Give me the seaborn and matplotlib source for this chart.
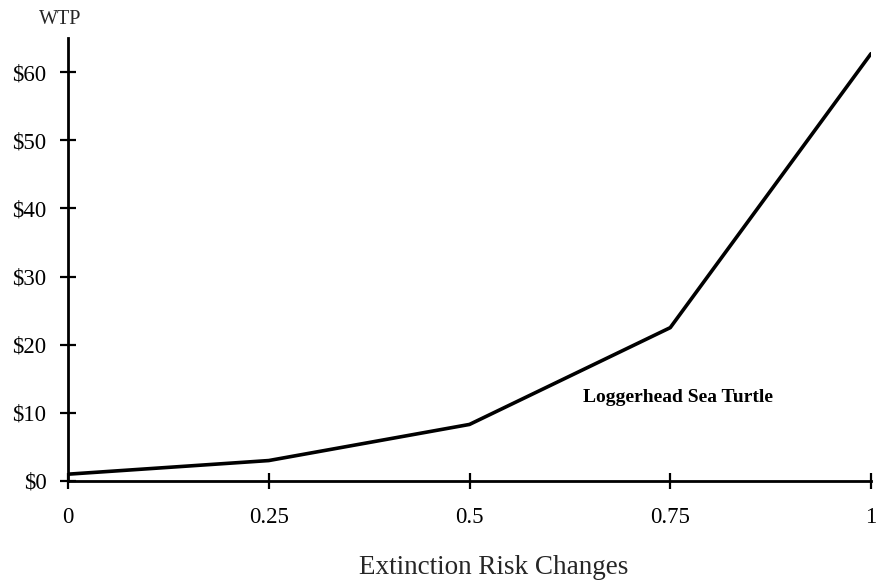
import matplotlib
matplotlib.use("Agg")
import matplotlib.pyplot as plt
import seaborn as sns
import pandas as pd

# Willingness to pay by change in extinction risk
risk_change = [0, 0.25, 0.5, 0.75, 1]
wtp = [1.0, 3.0, 8.3, 22.5, 62.7]
x_tick_labels = ["0", "0.25", "0.5", "0.75", "1"]
y_ticks = [0, 10, 20, 30, 40, 50, 60]
y_tick_labels = ["$0", "$10", "$20", "$30", "$40", "$50", "$60"]
species = "Loggerhead Sea Turtle"

sns.set_theme(style="ticks")
plt.rcParams["font.family"] = ["Liberation Serif", "DejaVu Serif"]

df = pd.DataFrame({"risk": risk_change, "wtp": wtp})

fig = plt.figure(figsize=(8.76, 5.82), dpi=100)
ax = fig.add_axes([68 / 876, 1 - 481 / 582, (871 - 68) / 876, (481 - 38) / 582])

sns.lineplot(data=df, x="risk", y="wtp", ax=ax, color="black", linewidth=2.6)

ax.set_xlim(0, 1)
ax.set_ylim(0, 65)
ax.set_xticks(risk_change)
ax.set_xticklabels(x_tick_labels)
ax.set_yticks(y_ticks)
ax.set_yticklabels(y_tick_labels)
ax.set_xlabel("")
ax.set_ylabel("")

for side in ("top", "right"):
    ax.spines[side].set_visible(False)
for side in ("left", "bottom"):
    ax.spines[side].set_color("black")
    ax.spines[side].set_linewidth(2.0)

ax.tick_params(axis="both", direction="inout", length=11, width=1.6,
               colors="black", labelsize=16.5)
ax.tick_params(axis="x", pad=13)
ax.tick_params(axis="y", pad=10)

ax.text(0.641, 12.2, species, fontsize=14, fontweight="bold",
        va="center", ha="left", color="black")

fig.text(60 / 876, 1 - 20 / 582, "WTP", fontsize=14.5, ha="center", va="center")
fig.text(494 / 876, 1 - 568 / 582, "Extinction Risk Changes", fontsize=19.5,
         ha="center", va="center")

fig.savefig("out.png", dpi=100, facecolor="white")
